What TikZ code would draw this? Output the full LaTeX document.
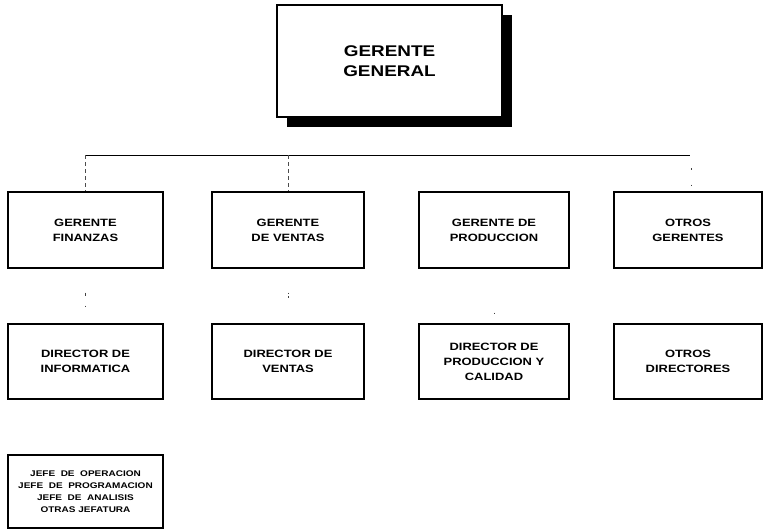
\documentclass[tikz,border=0pt]{standalone}
\usepackage{fontspec}
\setmainfont{Liberation Sans}[FakeStretch=1.22]
\begin{document}
\begin{tikzpicture}[x=1pt,y=-1pt,
  orgbox/.style={draw=black,line width=1.4pt,fill=white,inner sep=0pt,align=center,
    minimum height=76pt},
  toptext/.style={font=\fontsize{15.5}{20}\selectfont\bfseries},
  rowtext/.style={font=\fontsize{10.6}{15}\selectfont\bfseries},
  smalltext/.style={font=\fontsize{8.2}{12}\selectfont\bfseries},
  bus/.style={draw=black,line width=0.9pt},
  stub/.style={draw=black!70,line width=0.8pt,dash pattern=on 4pt off 3pt},
  faint/.style={draw=black!75,line width=1pt}]
\useasboundingbox (0,0) rectangle (763,530);

% top box with its drop shadow
\fill[black] (287,15) rectangle (512,127);
\node[orgbox,toptext,minimum width=225pt,minimum height=112pt] (gg) at (389.5,61)
  {GERENTE\\GENERAL};

% managers
\node[orgbox,rowtext,minimum width=155pt] (f1) at (85.5,230) {GERENTE\\FINANZAS};
\node[orgbox,rowtext,minimum width=152pt] (f2) at (288,230) {GERENTE\\DE VENTAS};
\node[orgbox,rowtext,minimum width=150pt] (f3) at (494,230) {GERENTE DE\\PRODUCCION};
\node[orgbox,rowtext,minimum width=148pt] (f4) at (688,230) {OTROS\\GERENTES};

% directors
\node[orgbox,rowtext,minimum width=155pt,minimum height=75pt] (d1) at (85.5,361.5) {DIRECTOR DE\\INFORMATICA};
\node[orgbox,rowtext,minimum width=152pt,minimum height=75pt] (d2) at (288,361.5) {DIRECTOR DE\\VENTAS};
\node[orgbox,rowtext,minimum width=150pt,minimum height=75pt] (d3) at (494,361.5) {DIRECTOR DE\\PRODUCCION Y\\CALIDAD};
\node[orgbox,rowtext,minimum width=148pt,minimum height=75pt] (d4) at (688,361.5) {OTROS\\DIRECTORES};

% department heads
\node[orgbox,smalltext,minimum width=155pt,minimum height=73pt] (j1) at (85.5,491.5)
  {JEFE\ \ DE\ \ OPERACION\\JEFE\ \ DE\ \ PROGRAMACION\\JEFE\ \ DE\ \ ANALISIS\\OTRAS JEFATURA};

% horizontal bus below the general manager
\coordinate (busL) at (86,155);
\coordinate (busR) at (690,155);
\draw[bus] (busL) -- (busR);

% drops from the bus to the managers
\draw[stub] (f1.north |- busL) -- (f1.north);
\draw[stub] (f2.north |- busL) -- (f2.north);
\draw[faint,dash pattern=on 0pt off 13pt on 1.5pt off 15pt on 1.5pt off 40pt]
  ([xshift=3pt]f4.north |- busL) -- ([xshift=3pt]f4.north);

% links from managers to directors
\draw[faint,dash pattern=on 0pt off 24pt on 3pt off 10pt on 1.5pt off 40pt] (f1.south) -- (d1.north);
\draw[faint,dash pattern=on 0pt off 24pt on 1.5pt off 2pt on 1.5pt off 60pt] (f2.south) -- (d2.north);
\draw[faint,dash pattern=on 0pt off 44pt on 1.5pt off 60pt] (f3.south) -- (d3.north);
\end{tikzpicture}
\end{document}
